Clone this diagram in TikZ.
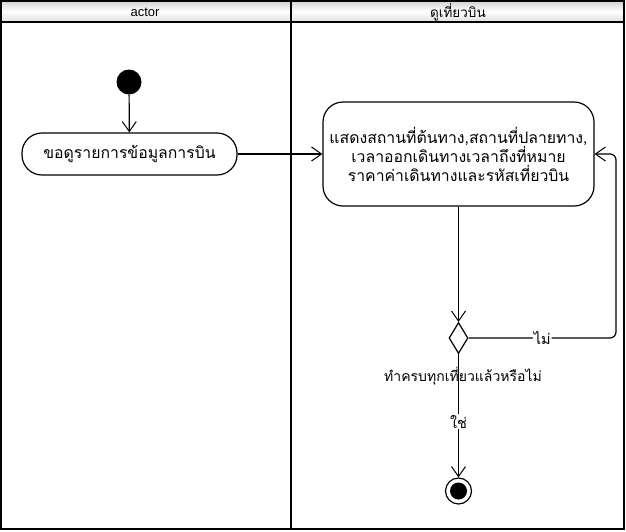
\documentclass[tikz,border=0pt]{standalone}
\usepackage{fontspec}
\setmainfont{Liberation Sans}
\newfontfamily\thaifont[Script=Thai]{Loma}
\usetikzlibrary{arrows.meta,shapes.geometric}
\begin{document}
\begin{tikzpicture}[x=1pt,y=-1pt,
  lane/.style={line width=1.8pt},
  action/.style={draw,line width=1.2pt,align=center,font=\thaifont\fontsize{15.8}{19}\selectfont},
  flow/.style={line width=1.2pt,-{Straight Barb[length=10pt,width=14pt,line width=1pt]}},
  lbl/.style={fill=white,inner sep=1pt,font=\thaifont\fontsize{14.5}{16}\selectfont},
  hdr/.style={font=\fontsize{13}{15}\selectfont}]
\useasboundingbox (0,0) rectangle (626,531);
% swimlanes
\shade[top color=gray!35,bottom color=gray!25,middle color=white] (1,1) rectangle (624,22);
\draw[lane] (1,1) rectangle (624,529);
\draw[lane] (1,22) -- (624,22);
\draw[lane] (291,1) -- (291,529);
\node[hdr] (h1) at (145,12) {actor};
\node[hdr,font=\thaifont\fontsize{13.5}{15}\selectfont] (h2) at (458,12) {ดูเที่ยวบิน};
% nodes
\node[circle,fill=black,minimum size=25pt,inner sep=0] (start) at (129,82) {};
\node[action,rounded corners=20pt,minimum width=215pt,minimum height=42pt] (req) at (129.5,154) {ขอดูรายการข้อมูลการบิน};
\node[action,rounded corners=20pt,minimum width=271pt,minimum height=104pt] (show) at (458.5,154)
  {แสดงสถานที่ต้นทาง,สถานที่ปลายทาง,\\เวลาออกเดินทางเวลาถึงที่หมาย\\ราคาค่าเดินทางและรหัสเที่ยวบิน};
\node[diamond,draw,line width=1.2pt,minimum width=19pt,minimum height=31pt,inner sep=0] (dec) at (458.5,338) {};
\node[circle,draw,line width=1.2pt,minimum size=26pt,inner sep=0] (end) at (458.5,491) {};
\node[circle,fill=black,minimum size=17pt,inner sep=0] (endin) at (end.center) {};
\coordinate (loop) at (616,246);
% connectors
\draw[flow] (start) -- (req);
\draw[flow] (req) -- (show);
\draw[flow] (show) -- (dec);
\draw[flow,rounded corners=6pt] (dec.east) -- node[lbl,pos=0.5]{ไม่} (dec.east -| loop) -- (show.east -| loop) -- (show.east);
\draw[flow] (dec) -- node[lbl,pos=0.55]{ใช่} (end);
\node[font=\thaifont\fontsize{14}{16}\selectfont] (declbl) at (463,376) {ทำครบทุกเที่ยวแล้วหรือไม่};
\end{tikzpicture}
\end{document}
